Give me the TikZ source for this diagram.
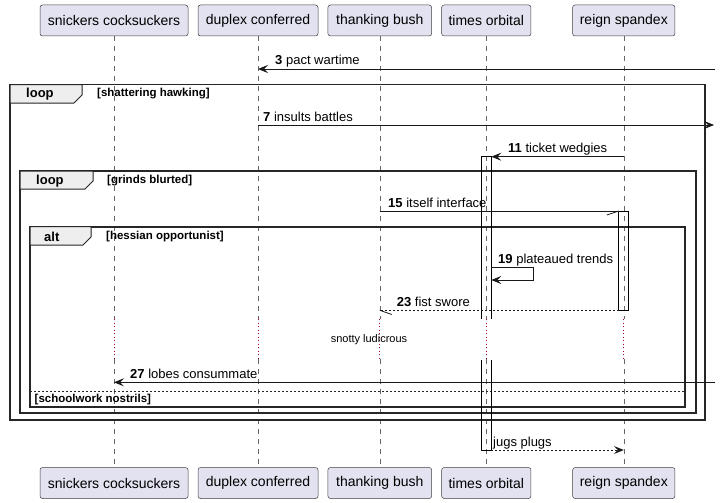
\documentclass[tikz,border=0pt]{standalone}
\usepackage{fontspec}
\setmainfont{Liberation Sans}
\usetikzlibrary{arrows.meta}
\definecolor{partfill}{HTML}{E2E2F0}
\definecolor{tabfill}{HTML}{EEEEEE}
\definecolor{delayred}{HTML}{A80036}
\begin{document}
\begin{tikzpicture}[x=1pt,y=-1pt,
  part/.style={draw=black!75,line width=0.5pt,fill=partfill,rounded corners=2.5pt,
    minimum height=31pt,inner sep=0pt,font=\fontsize{14}{16}\selectfont},
  life/.style={draw=black!60,line width=0.5pt,dash pattern=on 5pt off 5pt},
  delayline/.style={draw=delayred,line width=0.9pt,dash pattern=on 1pt off 2.5pt},
  msg/.style={draw=black!90,line width=0.8pt},
  msgarrow/.style={msg,-{Stealth[length=10pt,width=8pt,inset=4pt]}},
  dmsg/.style={dash pattern=on 2pt off 2pt},
  lbl/.style={anchor=base west,inner sep=0pt,font=\fontsize{13}{15}\selectfont},
  frame/.style={draw=black!85,line width=1.7pt},
  tab/.style={draw=black!85,line width=1pt,fill=tabfill},
  tablbl/.style={anchor=west,inner sep=0pt,font=\fontsize{13}{15}\selectfont\bfseries},
  cond/.style={anchor=west,inner sep=0pt,font=\fontsize{11.5}{13}\selectfont\bfseries},
  act/.style={draw=black,line width=0.8pt}]
\useasboundingbox (0,0) rectangle (720,503);
\fill[white] (0,0) rectangle (720,503);

% participants
\node[part,minimum width=148pt] (snT) at (114,20.5) {snickers cocksuckers};
\node[part,minimum width=120pt] (duT) at (258,20.5) {duplex conferred};
\node[part,minimum width=103.7pt] (thT) at (379.8,20.5) {thanking bush};
\node[part,minimum width=89.3pt] (tiT) at (486.3,20.5) {times orbital};
\node[part,minimum width=102.3pt] (reT) at (623.8,20.5) {reign spandex};
\node[part,minimum width=148pt] (snB) at (114,483) {snickers cocksuckers};
\node[part,minimum width=120pt] (duB) at (258,483) {duplex conferred};
\node[part,minimum width=103.7pt] (thB) at (379.8,483) {thanking bush};
\node[part,minimum width=89.3pt] (tiB) at (486.3,483) {times orbital};
\node[part,minimum width=102.3pt] (reB) at (623.8,483) {reign spandex};

% lifelines with delay
\coordinate (d1) at (0,319);
\coordinate (d2) at (0,359);
\foreach \p in {sn,du,th,ti,re}{
  \draw[life] (\p T.south) -- (\p T |- d1);
  \draw[delayline] (\p T |- d1) -- (\p T |- d2);
  \draw[life] (\p T |- d2) -- (\p B.north);
}

% frames
\draw[frame] (10,84.5) rectangle (705,420);
\draw[tab] (10,84.5) -- (82,84.5) -- (82,95) -- (74,103) -- (10,103) -- cycle;
\node[tablbl] (lp1) at (26,94) {loop};
\node[cond] (c1) at (97,94) {[shattering hawking]};

\draw[frame] (20,171) rectangle (696,413.3);
\draw[tab] (20,171) -- (93,171) -- (93,181) -- (85,189) -- (20,189) -- cycle;
\node[tablbl] (lp2) at (36,181) {loop};
\node[cond] (c2) at (107,181) {[grinds blurted]};

\draw[frame] (30,226.7) rectangle (685,406.7);
\draw[tab] (30,226.7) -- (91,226.7) -- (91,237) -- (83,245) -- (30,245) -- cycle;
\node[tablbl] (al) at (44,236.5) {alt};
\node[cond] (c3) at (106,236.5) {[hessian opportunist]};
\draw[draw=black!85,line width=0.8pt,dash pattern=on 2pt off 2pt] (30,391) -- (685,391);
\node[cond] (c4) at (34.5,399.5) {[schoolwork nostrils]};

% activation bars
\draw[act] (481.3,319) -- (481.3,156.7) -- (491.3,156.7) -- (491.3,319);
\draw[act] (481.3,360) -- (481.3,450) -- (491.3,450) -- (491.3,360);
\draw[act] (618.8,211) rectangle (628.8,310.5);
\coordinate (tiA1) at (491.3,156.7);
\coordinate (reA1) at (618.8,211);

% message 3
\coordinate (r3) at (715,69);
\draw[msgarrow] (r3) -- (duT |- r3);
\node[lbl] (l3) at (275,65) {\textbf{3} pact wartime};

% message 7
\coordinate (r7) at (714,125);
\draw[msgarrow] (duT |- r7) -- (r7);
\node[lbl] (l7) at (263,121) {\textbf{7} insults battles};

% message 11
\draw[msgarrow] (reT |- tiA1) -- (tiA1);
\node[lbl] (l11) at (508,152.7) {\textbf{11} ticket wedgies};

% message 15 (half arrow)
\draw[msg] (thT |- reA1) -- (reA1);
\draw[msg] (reA1) -- ++(-12,4);
\node[lbl] (l15) at (388,207) {\textbf{15} itself interface};

% message 19 (self)
\coordinate (s19a) at (491.3,267.7);
\coordinate (s19b) at (491.3,280);
\draw[msgarrow] (s19a) -- (533.3,267.7) -- (533.3,280) -- (s19b);
\node[lbl] (l19) at (498,263.7) {\textbf{19} plateaued trends};

% message 23 (dashed, half arrow)
\coordinate (reA2) at (618.8,310.3);
\coordinate (th23) at (thT |- reA2);
\draw[msg,dmsg] (reA2) -- (th23);
\draw[msg] (th23) -- ++(12,4.2);
\node[lbl] (l23) at (396.7,306.3) {\textbf{23} fist swore};

% delay text
\node[inner sep=0pt,font=\fontsize{11}{13}\selectfont] (dly) at (369,340) {snotty ludicrous};

% message 27
\coordinate (r27) at (715,382.3);
\draw[msgarrow] (r27) -- (snT |- r27);
\node[lbl] (l27) at (130,378.3) {\textbf{27} lobes consummate};

% jugs plugs
\coordinate (tiA2) at (491.3,450);
\draw[msgarrow,dmsg] (tiA2) -- (reT |- tiA2);
\node[lbl] (ljp) at (493,446) {jugs plugs};
\end{tikzpicture}
\end{document}
